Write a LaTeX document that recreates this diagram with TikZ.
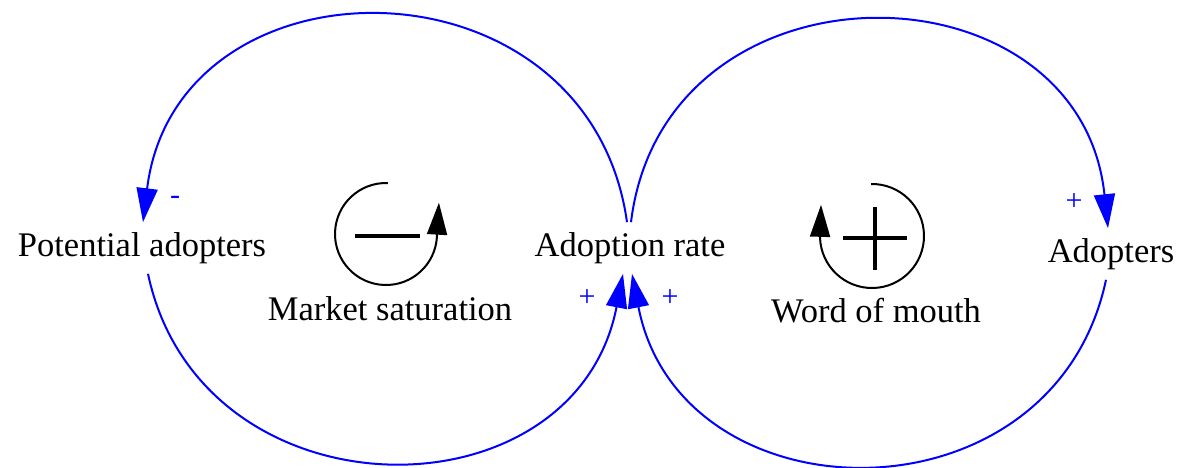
\documentclass[tikz,border=0pt]{standalone}
\usepackage{fontspec}
\setmainfont{Liberation Serif}
\usetikzlibrary{arrows.meta}
\definecolor{linkblue}{HTML}{0000FF}

\begin{document}
\begin{tikzpicture}[x=1pt,y=1pt,
  var/.style={inner sep=10pt,font=\fontsize{34.5}{40}\selectfont},
  looplabel/.style={anchor=base,inner sep=0pt,font=\fontsize{34.5}{40}\selectfont},
  sign/.style={text=linkblue,inner sep=0pt,font=\fontsize{30}{34}\selectfont},
  link/.style={draw=linkblue,line width=2pt,-{Triangle[length=34pt,width=21pt]}},
  loopline/.style={draw=black,line width=2pt,-{Triangle[length=32pt,width=20pt]}}]
\useasboundingbox (0,0) rectangle (1184,-467);

% variables
\node[var] (pa) at (142,-248) {Potential adopters};
\node[var] (ar) at (630,-248) {Adoption rate};
\node[var] (ad) at (1111,-254) {Adopters};

% links
\draw[link] ([xshift=-3pt]ar.north) to[out=98,in=83,looseness=1.46] ([xshift=1pt]pa.north);
\draw[link] ([xshift=1pt]ar.north) to[out=83,in=96,looseness=1.46] ([xshift=-3pt]ad.north);
\draw[link] ([xshift=6pt]pa.south) to[out=-78,in=-101,looseness=1.37] ([xshift=-7pt]ar.south);
\draw[link] ([xshift=-5pt]ad.south) to[out=-102,in=-79,looseness=1.37] ([xshift=2pt]ar.south);

% polarities
\node[sign] (s1) at (175,-200) {-};
\node[sign] (s2) at (1074,-202) {+};
\node[sign] (s3) at (587,-298) {+};
\node[sign] (s4) at (670,-298) {+};

% balancing loop
\draw[loopline] ([shift={(88:51)}]386,-234) arc[start angle=88,end angle=357,radius=51] -- ++(2,34);
\draw[line width=4.5pt] (355,-236) -- (420,-236);
\node[looplabel] (ms) at (390,-320) {Market saturation};

% reinforcing loop
\draw[loopline] ([shift={(91:52)}]872,-236) arc[start angle=91,end angle=-178,radius=52] -- ++(1,33);
\draw[line width=4.5pt] (843,-238) -- (907,-238) (875,-207) -- (875,-270);
\node[looplabel] (wm) at (876,-322) {Word of mouth};
\end{tikzpicture}
\end{document}
